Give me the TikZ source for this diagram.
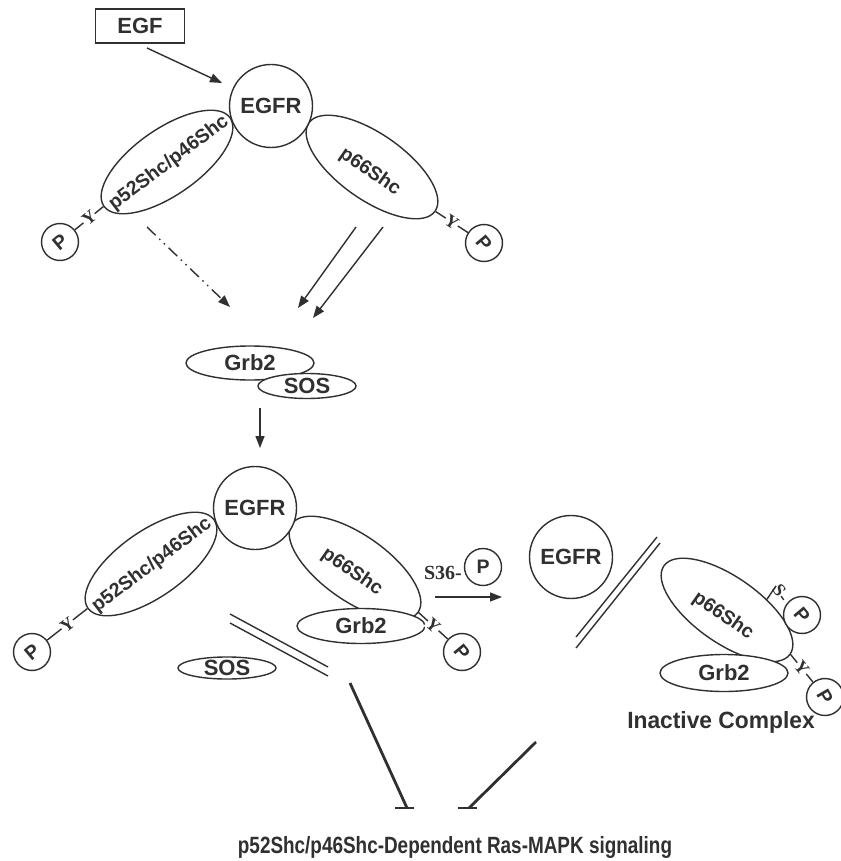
\documentclass[tikz,border=0pt]{standalone}
\usepackage{fontspec}
\setmainfont{Liberation Sans}
\newfontfamily\serifbf{Liberation Serif}
\usepackage{graphicx}
\usetikzlibrary{shapes.geometric,arrows.meta}
\definecolor{ink}{HTML}{303030}
\begin{document}
\begin{tikzpicture}[x=1pt,y=-1pt,color=ink,
  lw/.style={line width=1.4pt},
  big/.style={font=\bfseries\fontsize{22}{22}\selectfont},
  prot/.style={ellipse, draw, lw, fill=white, inner sep=0pt, big},
  shc/.style={ellipse, draw, lw, fill=white, minimum width=154pt, minimum height=66pt, inner sep=0pt},
  shctext/.style={font=\bfseries\fontsize{19.5}{19.5}\selectfont, inner sep=0pt},
  egfr/.style={circle, draw, lw, fill=white, minimum size=83pt, inner sep=0pt, big},
  pcirc/.style={circle, draw, lw, fill=white, minimum size=37pt, inner sep=0pt, font=\bfseries\fontsize{19.5}{19.5}\selectfont},
  res/.style={font=\serifbf\bfseries\fontsize{18}{18}\selectfont, fill=white, inner sep=0.6pt},
  conn/.style={draw, lw},
  arr/.style={conn, -{Triangle[length=12pt,width=9pt]}},
  inh/.style={draw, line width=2.8pt},
]
\useasboundingbox (0,0) rectangle (840,861);

% ---------- top complex ----------
\node[draw, lw, minimum width=89pt, minimum height=34pt, big] (egf) at (140,26) {EGF};
\node[shc, rotate=35] (shcA) at (167,162) {};
\node[shctext, rotate=37] (shcAt) at (169,163) {p52Shc/p46Shc};
\node[shc, rotate=-35] (p66A) at (372,167) {};
\node[shctext, rotate=-35] (p66At) at (370,172) {p66Shc};
\node[egfr] (egfrA) at (271,106) {EGFR};
\node[pcirc, rotate=40] (pA1) at (60,242) {P};
\node[pcirc, rotate=-50] (pA2) at (484,243) {P};
\draw[conn] (pA1) -- (shcA.west) node[res, midway, sloped] {Y};
\draw[conn] (p66A.east) -- (pA2) node[res, midway, sloped] {Y};

\coordinate (e1) at (147,48);
\coordinate (e2) at (222,83);
\draw[arr] (e1) -- (e2);

\coordinate (d1) at (147,227);
\coordinate (d2) at (230,307);
\draw[arr, dash pattern=on 12pt off 5pt on 1.5pt off 5pt on 1.5pt off 5pt] (d1) -- (d2);
\coordinate (f1) at (356,227);
\coordinate (f2) at (298,308);
\coordinate (g1) at (383,227);
\coordinate (g2) at (313,318);
\draw[arr] (f1) -- (f2);
\draw[arr] (g1) -- (g2);

% ---------- Grb2 / SOS ----------
\node[prot, minimum width=128pt, minimum height=34pt] (grbA) at (250,363) {Grb2};
\node[prot, minimum width=98pt, minimum height=25pt] (sosA) at (307,386) {SOS};
\coordinate (h1) at (260,408);
\coordinate (h2) at (260,448);
\draw[arr] (h1) -- (h2);

% ---------- middle complex ----------
\node[shc, rotate=35] (shcB) at (151,564) {};
\node[shctext, rotate=37] (shcBt) at (152,565) {p52Shc/p46Shc};
\node[shc, rotate=-35] (p66B) at (355,568) {};
\node[shctext, rotate=-35] (p66Bt) at (352,572) {p66Shc};
\node[egfr] (egfrB) at (255,508) {EGFR};
\node[prot, minimum width=128pt, minimum height=35pt] (grbB) at (361,626) {Grb2};
\node[pcirc, rotate=40] (pB1) at (32,652) {P};
\node[pcirc, rotate=-50] (pB2) at (462,652) {P};
\draw[conn] (pB1) -- (shcB.west) node[res, midway, sloped] {Y};
\draw[conn] (p66B.east) -- (pB2) node[res, midway, sloped] {Y};
\node[prot, minimum width=98pt, minimum height=22pt] (sosB) at (227,668) {SOS};
\coordinate (m1) at (230,614);
\coordinate (m2) at (328,667);
\coordinate (m3) at (230,623);
\coordinate (m4) at (328,676);
\draw[conn] (m1) -- (m2);
\draw[conn] (m3) -- (m4);

% ---------- S36 phosphorylation ----------
\node[font=\serifbf\bfseries\fontsize{20}{20}\selectfont, inner sep=0pt] (s36) at (443,573) {S36-};
\node[pcirc] (pS) at (483,567) {P};
\coordinate (k1) at (435,597);
\coordinate (k2) at (502,597);
\draw[arr] (k1) -- (k2);

% ---------- inactive complex ----------
\node[egfr] (egfrC) at (571,557) {EGFR};
\coordinate (n1) at (576,637);
\coordinate (n2) at (657,537);
\coordinate (n3) at (576,648);
\coordinate (n4) at (660,543);
\draw[conn] (n1) -- (n2);
\draw[conn] (n3) -- (n4);
\node[shc, rotate=-35] (p66C) at (727,610) {};
\node[shctext, rotate=-35] (p66Ct) at (723,616) {p66Shc};
\node[prot, minimum width=128pt, minimum height=37pt] (grbC) at (724,673) {Grb2};
\node[pcirc, rotate=-50] (pC1) at (802,615) {P};
\node[pcirc, rotate=-60] (pC2) at (825,697) {P};
\node[font=\serifbf\bfseries\fontsize{18}{18}\selectfont, inner sep=0.5pt, rotate=-55] (sC) at (781,593) {S-};
\draw[conn] (p66C.50) -- (sC.west);
\draw[conn] (p66C.east) -- (pC2) node[res, midway, sloped] {Y};
\node[font=\bfseries\fontsize{23.5}{24}\selectfont, inner sep=0pt] (inact) at (721,722) {\scalebox{0.97}[1]{Inactive Complex}};

% ---------- inhibition ----------
\coordinate (i1) at (350,683);
\coordinate (i2) at (407,808);
\coordinate (i3) at (395,808);
\coordinate (i4) at (414,808);
\coordinate (j1) at (536,742);
\coordinate (j2) at (469,808);
\coordinate (j3) at (458,808);
\coordinate (j4) at (477,808);
\draw[inh] (i1) -- (i2);
\draw[inh] (i3) -- (i4);
\draw[inh] (j1) -- (j2);
\draw[inh] (j3) -- (j4);

\node[font=\bfseries\fontsize{23.5}{24}\selectfont, inner sep=0pt] (sig) at (455,847) {\scalebox{0.805}[1]{p52Shc/p46Shc-Dependent Ras-MAPK signaling}};
\end{tikzpicture}
\end{document}
